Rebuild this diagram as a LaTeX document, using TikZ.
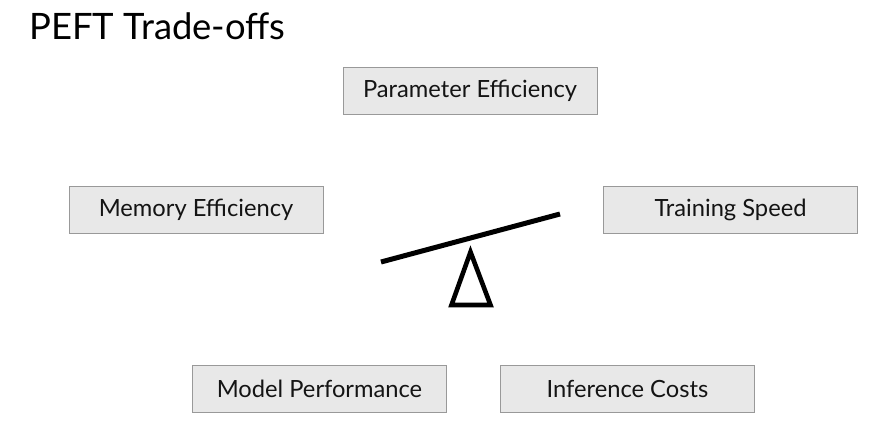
\documentclass[tikz,border=0pt]{standalone}
\usepackage{fontspec}
\setmainfont{Lato}
\begin{document}
\begin{tikzpicture}[x=1pt,y=1pt,
  tradebox/.style={draw=black!40, fill=black!9, line width=0.9pt,
    minimum width=254pt, minimum height=47pt, inner sep=0pt,
    font=\fontsize{23.7}{28}\selectfont, text=black!92},
  titletext/.style={font=\fontsize{36.4}{42}\selectfont, anchor=base west, inner sep=0pt}]
  \useasboundingbox (0,0) rectangle (885,432);
  % heading
  \node[titletext] (title) at (29,392) {PEFT Trade-offs};
  % the five competing goals
  \node[tradebox] (param) at (470,341.5) {Parameter Efficiency};
  \node[tradebox] (memory) at (196,222.5) {Memory Efficiency};
  \node[tradebox] (speed) at (730.5,222) {Training Speed};
  \node[tradebox] (perf) at (319.5,43.5) {Model Performance};
  \node[tradebox] (cost) at (627.5,43.5) {Inference Costs};
  % seesaw: tilted beam over a triangular pivot
  \coordinate (beamL) at (381,170);
  \coordinate (beamR) at (560,218);
  \draw[line width=5pt] (beamL) -- (beamR);
  \coordinate (apex) at (470.5,180);
  \coordinate (baseL) at (451.5,127);
  \coordinate (baseR) at (490.5,127);
  \draw[line width=4.6pt, line join=miter] (apex) -- (baseL) -- (baseR) -- cycle;
\end{tikzpicture}
\end{document}
